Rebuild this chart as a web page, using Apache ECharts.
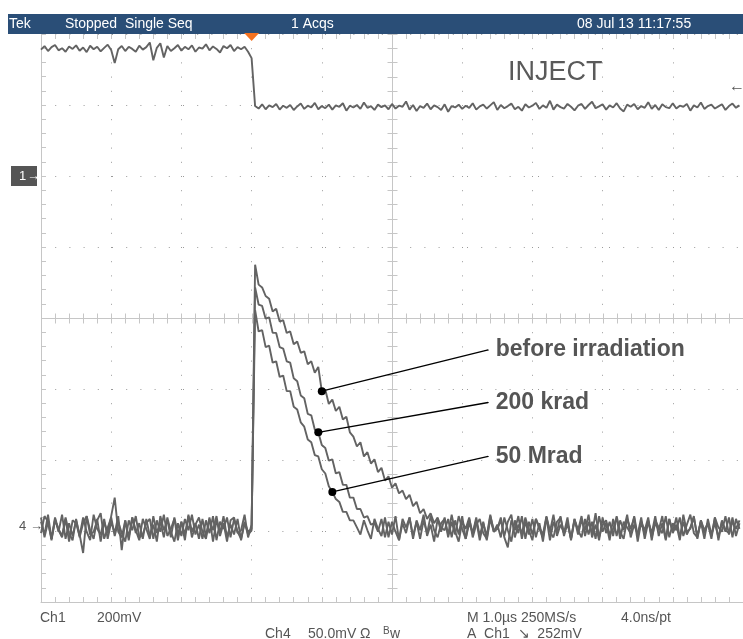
<!DOCTYPE html>
<html>
<head>
<meta charset="utf-8">
<script src="https://cdn.jsdelivr.net/npm/echarts@6/dist/echarts.min.js"></script>
<style>
  html, body { margin: 0; padding: 0; background: #fff; }
  #scope { width: 743px; height: 639px; }
</style>
</head>
<body>
<div id="scope"></div>
<script>
// Time base: samples every 50 ns, time in µs relative to the trigger.
const T_MIN = -3, T_MAX = 7, T_STEP = 0.05;
const DIVS_Y = 4;                 // vertical divisions either side of centre
const CH1_RANGE = [-1200, 400];   // mV shown by Ch1 (200 mV/div)
const CH4_RANGE = [-53.5, 346.5]; // mV shown by Ch4 (50 mV/div)
const TRIGGER_LEVEL = 252;        // mV on Ch1, falling edge

// Ch1: INJECT logic signal (mV)
const ch1 = [
  356,366,352,363,369,354,360,350,365,358,
  368,353,362,349,367,357,364,351,361,370,
  355,318,357,366,352,364,358,350,367,356,
  363,376,326,361,374,334,366,352,360,369,
  353,364,357,368,350,362,359,371,354,365,
  358,348,366,360,369,352,363,357,364,350,
  332,
  197,190,202,188,199,194,203,187,198,192,
  200,186,196,204,189,198,193,206,188,197,
  191,201,187,199,195,205,184,198,193,200,
  189,207,192,197,186,201,194,199,188,203,
  190,198,195,210,187,200,183,197,192,204,
  188,199,194,186,202,181,197,193,201,189,
  198,192,205,187,196,201,190,199,208,186,
  200,191,197,204,188,195,184,202,193,198,
  206,189,199,192,212,187,201,194,190,203,
  195,185,198,203,189,200,209,191,196,202,
  187,199,193,205,190,182,201,195,203,188,
  197,192,208,189,200,186,202,194,191,205,
  190,198,195,203,184,199,193,207,189,197,
  201,190,196,202,186,197,204,192,199
];

// Ch4: amplifier output, before irradiation (mV)
const ch4Before = [
  6,-8,3,-10,5,-4,8,-9,2,-7,
  4,-6,-19,7,-3,-9,5,-11,3,-5,
  7,20,-4,-8,4,-10,6,-5,2,-9,
  5,-7,1,-11,7,-3,4,-8,6,-6,
  3,-10,8,-4,2,-9,5,-7,6,-11,
  4,-5,7,-8,1,-6,5,-10,3,-4,
  -2,
  184,170,168,162,160,151,153,144,145,136,
  137,128,130,122,123,114,116,108,112,95,
  96,86,89,81,84,75,77,66,63,56,
  59,49,52,44,47,38,41,32,35,27,
  30,23,25,19,22,14,17,9,12,5,
  9,2,6,-1,
  -3,5,-8,4,-6,7,-9,2,-5,6,
  -7,3,-10,5,-4,-2,6,-8,-15,4,
  -3,7,-9,3,-6,5,-8,2,-11,6,
  -4,8,-7,1,-5,6,-10,4,-3,-8,
  5,-6,3,-9,7,-4,2,-10,5,-7,
  4,-3,8,-8,1,-6,6,-9,3,-5,
  7,-7,2,-10,5,-4,6,-8,3,-6,
  -1,7,-9,4,-5,2,-7,6,-10,3,
  -4,6,-8,5,-2
];

// Ch4: after 200 krad (mV)
const ch4After200krad = [
  -5,7,3,-9,6,-3,-8,5,-11,4,
  2,-7,6,-4,-10,8,-2,-6,5,-9,
  3,-5,7,-17,4,-8,6,-3,-10,5,
  -2,-9,7,-5,3,-8,6,-4,-11,2,
  -7,5,-3,8,-6,1,-9,4,-5,7,
  -10,3,-2,6,-8,5,-4,-9,2,-6,
  -3,
  168,156,155,146,147,136,136,126,125,116,
  115,104,102,92,90,79,78,68,66,57,
  55,46,47,37,38,29,29,20,20,12,
  12,6,7,1,2,
  -4,5,-8,3,-6,7,-10,2,-5,6,
  -9,4,-3,8,-7,1,-11,5,-4,6,
  -8,3,-6,7,-2,-9,5,-5,4,-10,
  2,-7,8,-4,1,-8,6,-3,-11,4,
  -5,7,-9,3,-6,5,-2,-8,6,-10,
  3,-4,7,-7,2,-9,5,-6,4,-3,
  8,-8,1,-10,6,-5,3,-7,7,-4,
  -9,5,-2,6,-11,3,-6,4,-8,2,
  -3,7,-9,5,-5,1,-10,8,-4,-2,
  6,-7,3,-9,5,-6,2,-8,4,-3,
  -5,6,-7,2
];

// Ch4: after 50 Mrad (mV)
const ch4After50Mrad = [
  3,-6,8,-9,4,-2,-7,6,-5,-10,
  5,-8,2,7,-6,-4,4,9,-9,-1,
  6,-7,3,-5,-11,4,-3,7,-8,-6,
  2,5,-9,4,-4,8,-7,-2,5,-10,
  3,-6,7,-8,1,6,-4,-9,5,-3,
  7,-7,2,-11,4,6,-5,-3,8,-8,
  1,
  152,137,138,126,127,115,116,105,106,95,
  95,84,82,73,70,61,59,50,49,40,
  37,28,24,19,17,10,10,4,4,-1,
  -6,4,-3,-9,5,-2,-7,6,-8,3,
  -4,-10,5,-1,6,-7,3,-9,4,-5,
  7,-3,-8,2,5,-6,8,-4,-11,3,
  -2,6,-8,1,5,-5,-9,7,-3,-2,
  4,-7,3,8,-8,1,-5,6,-3,-10,
  5,-1,-6,7,-4,-8,3,6,-5,2,
  -9,5,-3,7,-7,3,-5,9,-8,1,
  4,-6,-2,6,-9,3,-1,-5,7,-7,
  3,-3,6,-10,4,-1,-5,7,-8,2,
  -3,6,-7,1,8,-5,-8,4,-3,2,
  -9,6,-1,-4,7,-6,3,-2,4
];

// Callouts: which sample of which trace the pointer starts on, and where the text sits (µs, mV)
const calloutNames = ['before irradiation', '200 krad', '50 Mrad'];
const calloutSample = [80, 79, 83];
const calloutEnd = [[3.37, 124], [3.37, 87], [3.37, 49]];

const GRAT = '#c6c6c6';
const TRACE = '#636363';
const FONT = '"Liberation Sans", Arial, sans-serif';

const sampleTime = i => +(T_MIN + i * T_STEP).toFixed(2);
const toPairs = arr => arr.map((v, i) => [sampleTime(i), v]);
const ch4Traces = [ch4Before, ch4After200krad, ch4After50Mrad];

const borderAxis = (extra) => Object.assign({
  type: 'value',
  axisLine: { show: true, onZero: false, lineStyle: { color: GRAT, width: 1 } },
  axisTick: { show: true, inside: true, length: 5, lineStyle: { color: GRAT } },
  minorTick: { show: true, splitNumber: 5, length: 5, lineStyle: { color: GRAT } },
  axisLabel: { show: false },
  splitLine: { show: true, lineStyle: { color: '#9a9a9a', width: 1, type: [1, 13.2] } }
}, extra);

const traceSeries = (name, data, yIdx) => ({
  name, type: 'line', xAxisIndex: 0, yAxisIndex: yIdx,
  data: toPairs(data), showSymbol: false, symbol: 'none', silent: true,
  lineStyle: { color: TRACE, width: 1.9 }, z: 3
});

const calloutSeries = calloutNames.map((name, k) => {
  const idx = calloutSample[k];
  return {
    name: name + ' callout', type: 'line', xAxisIndex: 0, yAxisIndex: 2, silent: true, z: 6,
    lineStyle: { color: '#000', width: 1.3 },
    itemStyle: { color: '#000' },
    data: [
      { value: [sampleTime(idx), ch4Traces[k][idx]], symbol: 'circle', symbolSize: 8 },
      { value: calloutEnd[k], symbol: 'circle', symbolSize: 1,
        label: { show: true, position: 'right', distance: 7, formatter: name,
                 color: '#555', fontSize: 23, fontWeight: 'bold', fontFamily: FONT } }
    ]
  };
});

// Centre cross of the graticule, with a tick at every fifth of a division
const centreCross = {
  type: 'custom', xAxisIndex: 0, yAxisIndex: 0, silent: true, z: 1, clip: false,
  data: [[(T_MIN + T_MAX) / 2, 0]],
  renderItem(params, api) {
    const tc = api.value(0), vc = api.value(1);
    const c = api.coord([tc, vc]);
    const cx = Math.round(c[0]) + 0.5, cy = Math.round(c[1]) + 0.5;
    const L = api.coord([T_MIN, vc])[0], R = api.coord([T_MAX, vc])[0];
    const T = api.coord([tc, DIVS_Y])[1], B = api.coord([tc, -DIVS_Y])[1];
    const st = { stroke: GRAT, lineWidth: 1 };
    const kids = [
      { type: 'line', shape: { x1: L, y1: cy, x2: R, y2: cy }, style: st },
      { type: 'line', shape: { x1: cx, y1: T, x2: cx, y2: B }, style: st }
    ];
    for (let k = 0; k <= (T_MAX - T_MIN) * 5; k++) {
      const x = Math.round(api.coord([T_MIN + k / 5, vc])[0]) + 0.5;
      kids.push({ type: 'line', shape: { x1: x, y1: cy - 5, x2: x, y2: cy + 5 }, style: st });
    }
    for (let k = 0; k <= DIVS_Y * 10; k++) {
      const y = Math.round(api.coord([tc, -DIVS_Y + k / 5])[1]) + 0.5;
      kids.push({ type: 'line', shape: { x1: cx - 5, y1: y, x2: cx + 5, y2: y }, style: st });
    }
    return { type: 'group', children: kids };
  }
};

const chart = echarts.init(document.getElementById('scope'), null, { renderer: 'canvas' });

chart.setOption({
  animation: false,
  backgroundColor: '#fff',
  grid: { left: 41, top: 34, width: 710, height: 568, containLabel: false },
  xAxis: [
    borderAxis({ min: T_MIN, max: T_MAX, interval: 1, position: 'bottom' }),
    borderAxis({ min: T_MIN, max: T_MAX, interval: 1, position: 'top',
                 axisLine: { show: false, onZero: false }, splitLine: { show: false } })
  ],
  yAxis: [
    borderAxis({ min: -DIVS_Y, max: DIVS_Y, interval: 1, position: 'left' }),
    { type: 'value', min: CH1_RANGE[0], max: CH1_RANGE[1], show: false },
    { type: 'value', min: CH4_RANGE[0], max: CH4_RANGE[1], show: false }
  ],
  series: [
    centreCross,
    traceSeries('Ch1', ch1, 1),
    traceSeries('before irradiation', ch4Before, 2),
    traceSeries('200 krad', ch4After200krad, 2),
    traceSeries('50 Mrad', ch4After50Mrad, 2),
    ...calloutSeries
  ]
});

// Status bar, readouts and channel markers, placed from the axes' scales
const trigX = chart.convertToPixel({ xAxisIndex: 0 }, 0);
const ch1Zero = chart.convertToPixel({ yAxisIndex: 1 }, 0);
const ch4Zero = chart.convertToPixel({ yAxisIndex: 2 }, 0);
const trigY = chart.convertToPixel({ yAxisIndex: 1 }, TRIGGER_LEVEL);

const txt = (text, x, y, opts) => Object.assign({
  type: 'text', x, y, z: 20, silent: true,
  style: Object.assign({ text, fill: '#555', font: '14px ' + FONT, verticalAlign: 'middle' }, opts || {})
});

chart.setOption({
  graphic: [
    { type: 'rect', z: 15, silent: true, shape: { x: 8, y: 14, width: 735, height: 20 },
      style: { fill: '#2a4e77' } },
    txt('Tek', 9, 24, { fill: '#fff' }),
    txt('Stopped  Single Seq', 65, 24, { fill: '#fff' }),
    txt('1 Acqs', 291, 24, { fill: '#fff' }),
    txt('08 Jul 13 11:17:55', 577, 24, { fill: '#fff' }),
    { type: 'polygon', z: 21, silent: true,
      shape: { points: [[trigX - 7.5, 33], [trigX + 7.5, 33], [trigX, 41]] },
      style: { fill: '#f47220' } },
    txt('INJECT', 508, 73, { font: '27px ' + FONT, fill: '#5a5a5a' }),
    { type: 'rect', z: 15, silent: true, shape: { x: 11, y: ch1Zero - 10, width: 26, height: 20 },
      style: { fill: '#555' } },
    txt('1', 19, ch1Zero, { fill: '#fff', font: '13px ' + FONT }),
    txt('→', 27, ch1Zero, { fill: '#fff', font: '13px ' + FONT }),
    txt('4', 19, ch4Zero, { font: '13px ' + FONT }),
    txt('→', 30, ch4Zero, { font: '13px ' + FONT }),
    txt('←', 729, trigY, { font: '16px ' + FONT }),
    txt('Ch1', 40, 618),
    txt('200mV', 97, 618),
    txt('M 1.0µs 250MS/s', 467, 618),
    txt('4.0ns/pt', 621, 618),
    txt('Ch4', 265, 634),
    txt('50.0mV', 308, 634),
    txt('Ω', 360, 634),
    txt('B', 383, 631, { font: '10px ' + FONT }),
    txt('w', 390, 634),
    txt('A  Ch1  ↘  252mV', 467, 634)
  ]
});
</script>
</body>
</html>
